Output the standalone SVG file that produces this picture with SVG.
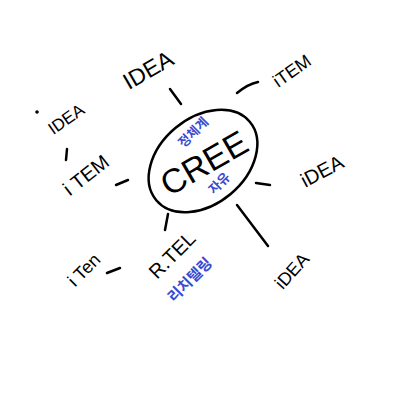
<svg xmlns="http://www.w3.org/2000/svg" width="400" height="400" viewBox="0 0 400 400">
<style>
.t{font-family:"Liberation Sans","Noto Sans CJK KR",sans-serif;fill:#000;}
.b{font-family:"Noto Sans CJK KR","Liberation Sans",sans-serif;fill:#3a4ad0;font-weight:bold;}
.l{stroke:#000;stroke-width:2.5;fill:none;stroke-linecap:round;}
</style>
<rect width="400" height="400" fill="#fff"/>
<g id="connectors">
<path class="l" d="M170,89 L181,104"/>
<path class="l" d="M67,149 L66,160"/>
<path class="l" d="M116,185 L128,180"/>
<path class="l" d="M237,93 Q248,84 258,82"/>
<path class="l" d="M256,183 L270,185"/>
<path class="l" d="M237,205 L268,246"/>
<path class="l" d="M168,214 L165,230"/>
<path class="l" d="M107,273 L120,268"/>
</g>
<g id="center">
<ellipse cx="203" cy="161" rx="61" ry="43" transform="rotate(-40 203 161)" class="l"/>
<text class="t" x="204" y="175" font-size="34" text-anchor="middle" transform="rotate(-30 204 163)">CREE</text>
<text class="b" x="193" y="137" font-size="13" text-anchor="middle" transform="rotate(-45 193 132)">정체계</text>
<text class="b" x="219" y="188" font-size="13" text-anchor="middle" transform="rotate(-45 219 183)">자유</text>
</g>
<g id="idea-top">
<text class="t" x="148" y="78" font-size="23" text-anchor="middle" transform="rotate(-30 148 70)">IDEA</text>
</g>
<g id="idea-left">
<circle cx="37" cy="112" r="1.8" fill="#000"/>
<text class="t" x="66" y="125" font-size="17" text-anchor="middle" transform="rotate(-35 66 119)">IDEA</text>
</g>
<g id="item-left">
<text class="t" x="86" y="182" font-size="20" text-anchor="middle" transform="rotate(-38 86 175)">i TEM</text>
</g>
<g id="item-right">
<text class="t" x="292" y="77" font-size="18" text-anchor="middle" transform="rotate(-35 292 71)">iTEM</text>
</g>
<g id="idea-right">
<text class="t" x="322" y="178" font-size="20" text-anchor="middle" transform="rotate(-28 322 171)">iDEA</text>
</g>
<g id="idea-bottom">
<text class="t" x="292" y="277" font-size="18" text-anchor="middle" transform="rotate(-48 292 271)">iDEA</text>
</g>
<g id="rtel">
<text class="t" x="172" y="262" font-size="20" text-anchor="middle" transform="rotate(-45 172 255)">R.TEL</text>
<text class="b" x="190" y="285" font-size="15" text-anchor="middle" transform="rotate(-45 190 280)">리치텔링</text>
</g>
<g id="item-bottom">
<text class="t" x="84" y="276" font-size="18" text-anchor="middle" transform="rotate(-45 84 270)">i Ten</text>
</g>
</svg>
